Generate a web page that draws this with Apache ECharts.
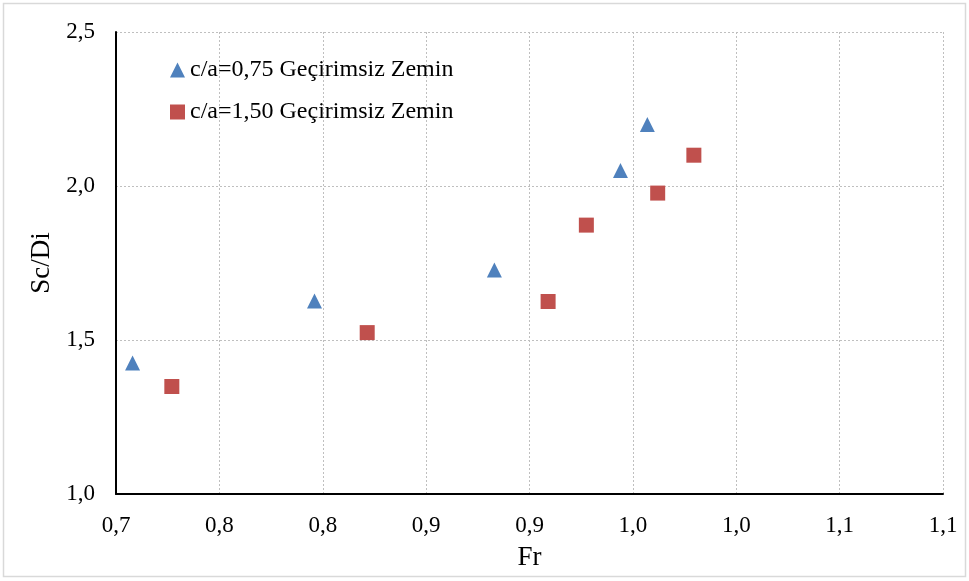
<!DOCTYPE html>
<html>
<head>
<meta charset="utf-8">
<script src="https://cdn.jsdelivr.net/npm/echarts@6/dist/echarts.min.js"></script>
<style>
  html, body { margin: 0; padding: 0; background: #fff; }
  #chart { width: 969px; height: 581px; }
</style>
</head>
<body>
<div id="chart"></div>
<script>
// Series names
const seriesNames = ['c/a=0,75 Geçirimsiz Zemin', 'c/a=1,50 Geçirimsiz Zemin'];

// c/a = 0,75 : Froude number and scour depth ratio
const frA = [0.708, 0.796, 0.883, 0.944, 0.957];
const scA = [1.425, 1.627, 1.727, 2.050, 2.200];

// c/a = 1,50
const frB = [0.727, 0.8215, 0.909, 0.9275, 0.962, 0.9795];
const scB = [1.349, 1.524, 1.625, 1.873, 1.977, 2.100];

// Axis tick labels (one decimal, comma separator)
const xTickLabels = ['0,7', '0,8', '0,8', '0,9', '0,9', '1,0', '1,0', '1,1', '1,1'];
const yTickLabels = ['1,0', '1,5', '2,0', '2,5'];

const FONT = '"Liberation Serif", "Times New Roman", serif';

const chart = echarts.init(document.getElementById('chart'), null, { renderer: 'canvas' });

const xMin = 0.7, xStep = 0.05;
const yMin = 1.0, yStep = 0.5;

chart.setOption({
  animation: false,
  backgroundColor: '#ffffff',
  graphic: [{
    type: 'rect',
    shape: { x: 3.5, y: 3.5, width: 962, height: 573 },
    style: { fill: 'none', stroke: '#d9d9d9', lineWidth: 1.5 },
    silent: true
  }],
  grid: { left: 116, right: 26, top: 32, bottom: 87 },
  legend: {
    orient: 'vertical',
    left: 170,
    top: 58,
    padding: 0,
    itemGap: 18,
    itemWidth: 15,
    itemHeight: 15,
    textStyle: { fontFamily: FONT, fontSize: 24, color: '#000' },
    data: [
      { name: seriesNames[0], icon: 'triangle' },
      { name: seriesNames[1], icon: 'rect' }
    ]
  },
  xAxis: {
    type: 'value',
    min: xMin, max: 1.1, interval: xStep,
    name: 'Fr',
    nameLocation: 'middle',
    nameGap: 50,
    nameTextStyle: { fontFamily: FONT, fontSize: 27, color: '#000' },
    axisLine: { show: true, onZero: false, lineStyle: { color: '#000', width: 2 } },
    axisTick: { show: false },
    axisLabel: {
      fontFamily: FONT, fontSize: 23, color: '#000', margin: 20,
      formatter: v => xTickLabels[Math.round((v - xMin) / xStep)]
    },
    splitLine: { show: true, lineStyle: { color: '#bfbfbf', type: [2, 2], width: 1 } }
  },
  yAxis: {
    type: 'value',
    min: yMin, max: 2.5, interval: yStep,
    name: 'Sc/Di',
    nameLocation: 'middle',
    nameGap: 60,
    nameRotate: 90,
    nameTextStyle: { fontFamily: FONT, fontSize: 27, color: '#000' },
    axisLine: { show: true, onZero: false, lineStyle: { color: '#000', width: 2 } },
    axisTick: { show: false },
    axisLabel: {
      fontFamily: FONT, fontSize: 23, color: '#000', margin: 21,
      formatter: v => yTickLabels[Math.round((v - yMin) / yStep)]
    },
    splitLine: { show: true, lineStyle: { color: '#bfbfbf', type: [2, 2], width: 1 } }
  },
  series: [
    {
      name: seriesNames[0],
      type: 'scatter',
      symbol: 'triangle',
      symbolSize: 15,
      itemStyle: { color: '#4f81bd', opacity: 1 },
      data: frA.map((x, i) => [x, scA[i]])
    },
    {
      name: seriesNames[1],
      type: 'scatter',
      symbol: 'rect',
      symbolSize: 15,
      itemStyle: { color: '#c0504d', opacity: 1 },
      data: frB.map((x, i) => [x, scB[i]])
    }
  ]
});
</script>
</body>
</html>
